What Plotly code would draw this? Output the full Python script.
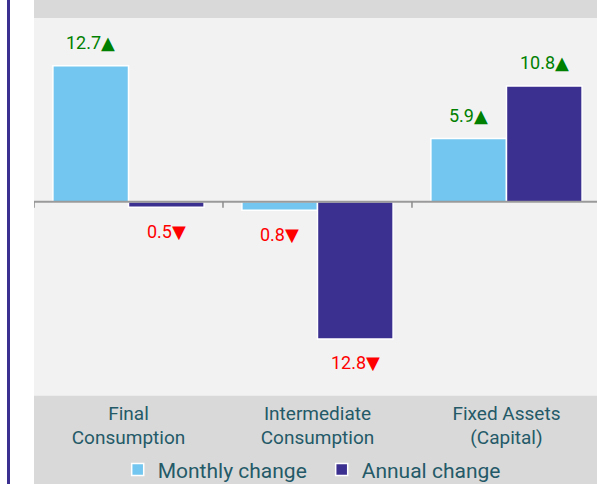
import plotly.graph_objects as go

categories = ["Final<br>Consumption", "Intermediate<br>Consumption", "Fixed Assets<br>(Capital)"]
monthly = [12.7, -0.8, 5.9]
annual = [-0.5, -12.8, 10.8]
series_names = ["Monthly change", "Annual change"]
series_colors = ["#73c6ef", "#3b2f8f"]

TEXT = "#245a68"
FONT = "Roboto"
bargap = 0.2

fig = go.Figure()
for name, vals, col in zip(series_names, [monthly, annual], series_colors):
    fig.add_trace(go.Bar(
        x=categories, y=vals, name=name,
        marker=dict(color=col, line=dict(color="white", width=1.5)),
    ))

# value labels above / below bars
n_series = 2
bw = (1 - bargap) / n_series
annotations = []
for si, vals in enumerate([monthly, annual]):
    off = -(1 - bargap) / 2 + bw * (si + 0.5)
    for ci, v in enumerate(vals):
        pos = v >= 0
        annotations.append(dict(
            x=ci + off, y=v, xref="x", yref="y",
            text=f"{abs(v):.1f}<span style='font-family:DejaVu Sans'>{'▲' if pos else '▼'}</span>",
            showarrow=False, yanchor="middle",
            yshift=23.5 if pos else -24,
            font=dict(family=FONT, size=18, color="#008000" if pos else "#ff0000"),
        ))

shapes = [
    # white left margin and purple rule
    dict(type="rect", xref="paper", yref="paper", xsizemode="pixel", xanchor=0,
         x0=-34, x1=0, y0=-1, y1=2, fillcolor="white", line=dict(width=0), layer="above"),
    dict(type="line", xref="paper", yref="paper", xsizemode="pixel", xanchor=0,
         x0=-25.5, x1=-25.5, y0=-1, y1=2, line=dict(color="#3b2f8f", width=3), layer="above"),
    # zero line
    dict(type="line", xref="paper", yref="y", x0=0, x1=1, y0=0, y1=0,
         line=dict(color="#9a9a9a", width=2), layer="above"),
]
for i in range(len(categories) + 1):
    shapes.append(dict(type="line", xref="x", yref="y", ysizemode="pixel", yanchor=0,
                       x0=i - 0.5, x1=i - 0.5, y0=0, y1=-6,
                       line=dict(color="#8c8c8c", width=1.5), layer="above"))

fig.update_layout(
    width=597, height=484,
    margin=dict(l=34, r=0, t=18, b=87),
    paper_bgcolor="#d9d9d9", plot_bgcolor="#f2f2f2",
    barmode="group", bargap=bargap, bargroupgap=0,
    font=dict(family=FONT, color=TEXT),
    showlegend=True,
    legend=dict(orientation="h", x=0.511, xanchor="center", yref="container", y=0.029,
                yanchor="middle", entrywidth=159, entrywidthmode="pixels",
                font=dict(family=FONT, size=21, color=TEXT), bgcolor="rgba(0,0,0,0)"),
    xaxis=dict(type="category", range=[-0.5, 2.479], showgrid=False, showline=False,
               ticks="", ticklabelstandoff=4,
               tickfont=dict(family=FONT, size=19, color=TEXT), fixedrange=True),
    yaxis=dict(range=[-18.1, 17.15], showgrid=False, zeroline=False, showticklabels=False,
               ticks="", fixedrange=True),
    annotations=annotations, shapes=shapes,
)

fig.write_html("out.html", config={"displayModeBar": False},
               post_script="document.body.style.margin='0';")
